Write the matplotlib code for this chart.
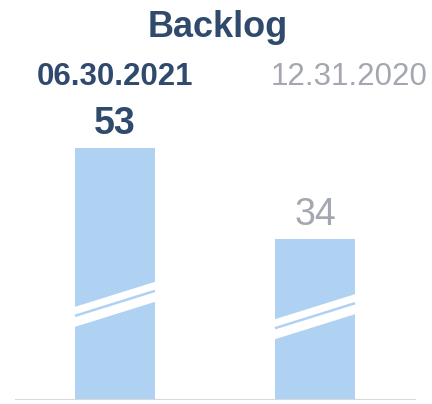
import matplotlib.pyplot as plt

plt.rcParams['font.family'] = ['Liberation Sans', 'DejaVu Sans']

title = "Backlog"
periods = ["06.30.2021", "12.31.2020"]
values = [53, 34]

navy = "#2f4a6c"
grey = "#a3a7b0"
bar_color = "#b0d2f2"

# break marks: height (data units) of the lower edge of the white band at bar's left side
break_low = [15.4, 12.8]

fig = plt.figure(figsize=(4.32, 4.04), dpi=100)
ax = fig.add_axes([15 / 432, 4 / 404, 401 / 432, 380 / 404])
ax.set_xlim(-0.5, 1.505)
ax.set_ylim(0, 80)
ax.axis("off")

x = list(range(len(values)))
bw = 0.4
ax.bar(x, values, width=bw, color=bar_color, zorder=2)
ax.axhline(0, color="#d8d8d8", linewidth=2.2, zorder=3)

# white diagonal break band with thin line in the middle
rise = 25 / 4.75   # px -> data units
band = 20 / 4.75
for i in x:
    x0, x1 = i - bw / 2, i + bw / 2
    y0 = break_low[i]
    ax.fill([x0, x1, x1, x0], [y0, y0 + rise, y0 + rise + band, y0 + band],
            color="white", lw=0, zorder=4)
    mid = y0 + band * 0.55
    ax.plot([x0, x1], [mid, mid + rise], color=bar_color, lw=1.8, zorder=5,
            solid_capstyle="butt")

# value labels
for i, v in enumerate(values):
    ax.annotate(str(v), (i, v), xytext=(0, 10), textcoords="offset points",
                ha="center", va="baseline", fontsize=27,
                color=navy if i == 0 else grey,
                fontweight="bold" if i == 0 else "normal")

fig.text(218 / 432, 1 - 37 / 404, title, ha="center", va="baseline",
         fontsize=26, fontweight="bold", color=navy)
fig.text(115.5 / 432, 1 - 85 / 404, periods[0], ha="center", va="baseline",
         fontsize=22.5, fontweight="bold", color=navy)
fig.text(349.5 / 432, 1 - 85 / 404, periods[1], ha="center", va="baseline",
         fontsize=22.5, color=grey)

fig.savefig("out.png", dpi=100)
